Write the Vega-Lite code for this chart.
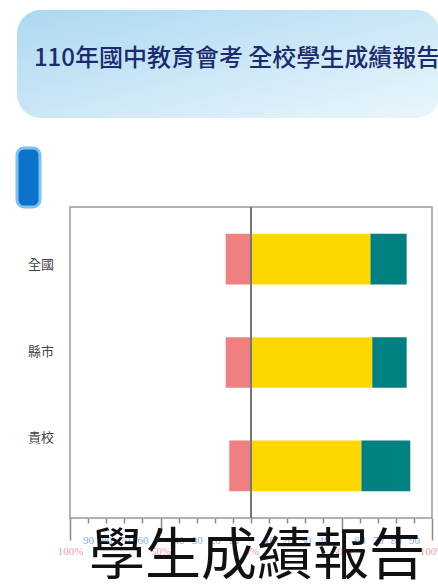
{
  "$schema": "https://vega.github.io/schema/vega-lite/v6.json",
  "background": "white",
  "padding": {"left": 15, "top": 10, "right": 0, "bottom": 0},
  "config": {"view": {"stroke": null}, "font": "Noto Sans CJK TC"},
  "title": {
    "text": "學生成績報告",
    "orient": "bottom",
    "anchor": "start",
    "frame": "group",
    "dx": 72,
    "offset": -27,
    "fontSize": 56,
    "font": "Noto Sans CJK TC",
    "fontWeight": "normal",
    "color": "#111111"
  },
  "bounds": "flush",
  "spacing": 30,
  "vconcat": [
    {
      "width": 423,
      "height": 108,
      "view": {
        "fill": {"gradient": "linear", "x1": 0, "y1": 0, "x2": 1, "y2": 1,
          "stops": [{"offset": 0, "color": "#acd8f1"}, {"offset": 1, "color": "#eaf6fc"}]},
        "stroke": null,
        "cornerRadius": 24
      },
      "data": {"values": [{"title": "110年國中教育會考 全校學生成績報告"}]},
      "mark": {"type": "text", "align": "left", "baseline": "middle", "fontSize": 24, "color": "#1c2b6e", "font": "Noto Sans CJK TC", "fontWeight": 500},
      "encoding": {
        "text": {"field": "title"},
        "x": {"datum": 0.04, "type": "quantitative", "scale": {"domain": [0, 1]}, "axis": null},
        "y": {"datum": 0.55, "type": "quantitative", "scale": {"domain": [0, 1]}, "axis": null}
      }
    },
    {
      "bounds": "flush",
      "spacing": 0,
      "vconcat": [
        {
          "width": 23,
          "height": 59,
          "data": {"values": [{"name": "button"}]},
          "mark": {"type": "rect", "fill": "#0b73c9", "stroke": "#7cc2f2", "strokeWidth": 3, "cornerRadius": 7},
          "encoding": {
            "x": {"datum": 0, "type": "quantitative", "scale": {"domain": [0, 1]}, "axis": null},
            "x2": {"datum": 1},
            "y": {"datum": 0, "type": "quantitative", "scale": {"domain": [0, 1]}, "axis": null},
            "y2": {"datum": 1}
          }
        },
        {
          "bounds": "flush",
          "spacing": 0,
          "hconcat": [
            {
              "width": 53,
              "height": 311,
              "data": {"values": [{"group": "全國"}, {"group": "縣市"}, {"group": "貴校"}]},
              "mark": {"type": "text", "align": "right", "baseline": "middle", "fontSize": 13, "color": "#444444", "font": "Noto Sans CJK TC"},
              "encoding": {
                "text": {"field": "group"},
                "y": {"field": "group", "type": "nominal", "scale": {"type": "point", "domain": ["全國", "縣市", "貴校"], "padding": 0.789, "align": 0.42}, "axis": null},
                "x": {"datum": 0.7, "type": "quantitative", "scale": {"domain": [0, 1]}, "axis": null}
              }
            },
            {
              "width": 362,
              "height": 311,
              "view": {"stroke": "#999999", "strokeWidth": 1.5, "fill": "white"},
              "data": {"values": [
                {"group": "全國", "level": "待加強", "pct": -14},
                {"group": "全國", "level": "基礎", "pct": 66},
                {"group": "全國", "level": "精熟", "pct": 20},
                {"group": "縣市", "level": "待加強", "pct": -14},
                {"group": "縣市", "level": "基礎", "pct": 67},
                {"group": "縣市", "level": "精熟", "pct": 19},
                {"group": "貴校", "level": "待加強", "pct": -12},
                {"group": "貴校", "level": "基礎", "pct": 61},
                {"group": "貴校", "level": "精熟", "pct": 27}
              ]},
              "layer": [
                {
                  "mark": {"type": "bar"},
                  "encoding": {
                    "y": {"field": "group", "type": "nominal", "scale": {"domain": ["全國", "縣市", "貴校"], "paddingInner": 0.51, "paddingOuter": 0.26}, "axis": null},
                    "x": {
                      "field": "pct", "type": "quantitative", "stack": "zero",
                      "scale": {"domain": [-100, 100], "nice": false},
                      "axis": {
                        "values": [-100, -90, -80, -70, -60, -50, -40, -30, -20, -10, 0, 10, 20, 30, 40, 50, 60, 70, 80, 90, 100],
                        "tickCount": 50,
                        "domain": false,
                        "grid": false,
                        "title": null,
                        "labelExpr": "abs(datum.value) % 50 == 0 ? abs(datum.value) + '%' : '' + abs(datum.value)",
                        "labelColor": {"condition": {"test": "abs(datum.value) % 50 == 0", "value": "#f2a0a6"}, "value": "#86aee6"},
                        "labelFontSize": 11,
                        "labelPadding": {"condition": [{"test": "abs(datum.value) == 100", "value": 5}, {"test": "abs(datum.value) == 50", "value": 12}, {"test": "datum.value == 0", "value": 22}], "value": 11},
                        "tickSize": {"condition": [{"test": "abs(datum.value) == 100", "value": 22}, {"test": "abs(datum.value) == 50", "value": 15}], "value": 5},
                        "tickColor": "#888888",
                        "tickWidth": 1.5,
                        "labelFont": "Liberation Sans Narrow",
                        "labelOverlap": false,
                        "labelFlush": false,
                        "labelBound": false
                      }
                    },
                    "color": {
                      "field": "level", "type": "nominal",
                      "sort": ["待加強", "基礎", "精熟"],
                      "scale": {"domain": ["待加強", "基礎", "精熟"], "range": ["#f08080", "#ffd700", "#008080"]},
                      "legend": null
                    }
                  }
                },
                {
                  "mark": {"type": "rule", "stroke": "#777777", "strokeWidth": 1.5},
                  "encoding": {"x": {"datum": 0}}
                }
              ]
            }
          ]
        }
      ]
    }
  ]
}
